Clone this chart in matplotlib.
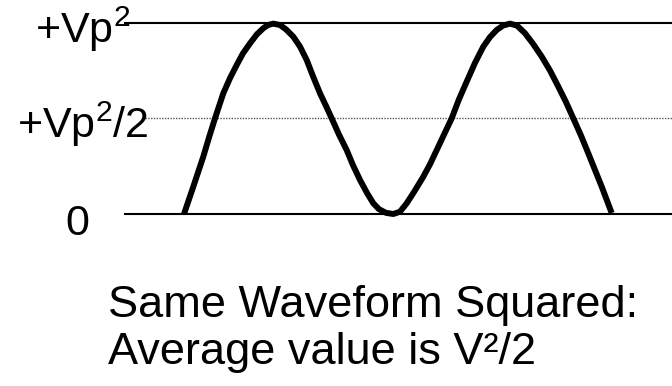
import matplotlib.pyplot as plt

# squared waveform (x in px, value in units of Vp^2)
wave_x = [184, 193.3, 203.3, 209, 215, 223.3, 230, 236.7, 243, 250, 257, 263.3,
          268, 273.3, 280, 286, 293.3, 300, 306.7, 313, 320, 326, 331.7, 339,
          346.7, 353, 360, 367, 373.3, 379, 386, 393.3, 400, 406.7, 414,
          423.3, 430, 436.7, 444, 451.7, 459, 466.7, 475, 483.3, 490, 496.7,
          503, 510, 517, 525, 533, 541.7, 550, 558.3, 566, 573.3, 581, 588.3,
          595, 601.7, 607, 611.7]
wave_v = [0.0, 0.143, 0.300, 0.400, 0.500, 0.631, 0.710, 0.779, 0.840, 0.892, 0.940, 0.971,
          0.988, 0.995, 0.988, 0.965, 0.927, 0.875, 0.805, 0.720, 0.631, 0.565, 0.500, 0.415,
          0.334, 0.255, 0.178, 0.110, 0.056, 0.025, 0.006, 0.0, 0.012, 0.056, 0.115,
          0.195, 0.260, 0.334, 0.415, 0.500, 0.600, 0.692, 0.790, 0.875, 0.925, 0.962,
          0.985, 0.995, 0.985, 0.945, 0.890, 0.823, 0.750, 0.666, 0.585, 0.500, 0.410, 0.317,
          0.230, 0.143, 0.070, 0.005]

levels = [1.0, 0.5, 0.0]
level_labels = [r"+Vp$^{2}$", r"+Vp$^{2}$/2", "0"]
caption = ["Same Waveform Squared:", "Average value is V²/2"]

Y0, SCALE = 214.0, 191.3   # pixel row of 0 and px per unit


def v(ypix):
    return (Y0 - ypix) / SCALE


plt.rcParams['font.family'] = ['Liberation Sans', 'DejaVu Sans']
plt.rcParams['mathtext.fontset'] = 'custom'
plt.rcParams['mathtext.rm'] = 'Liberation Sans'
plt.rcParams['mathtext.it'] = 'Liberation Sans'
plt.rcParams['mathtext.default'] = 'rm'

fig = plt.figure(figsize=(6.72, 3.86), dpi=100)
ax = fig.add_axes([0, 0, 1, 1])
ax.set_xlim(0, 672)
ax.set_ylim(v(386), v(0))
ax.axis('off')

# reference lines
ax.plot([125, 672], [levels[0]] * 2, color='black', lw=1.5)
ax.plot([145, 672], [levels[1]] * 2, color='#555555', lw=1.0, ls=(0, (1, 1)))
ax.plot([125, 672], [levels[2]] * 2, color='black', lw=1.5)

ax.plot(wave_x, wave_v, color='black', lw=4.3, solid_capstyle='butt',
        solid_joinstyle='round')

fs = 31
ax.text(35, v(43), level_labels[0], fontsize=fs, va='baseline', ha='left')
ax.text(17, v(138), level_labels[1], fontsize=fs, va='baseline', ha='left')
ax.text(65, v(235), level_labels[2], fontsize=fs, va='baseline', ha='left')

ax.text(108, v(317), caption[0], fontsize=32.5, va='baseline', ha='left')
ax.text(108, v(364), caption[1], fontsize=32.5, va='baseline', ha='left')

fig.savefig("out.png", dpi=100)
